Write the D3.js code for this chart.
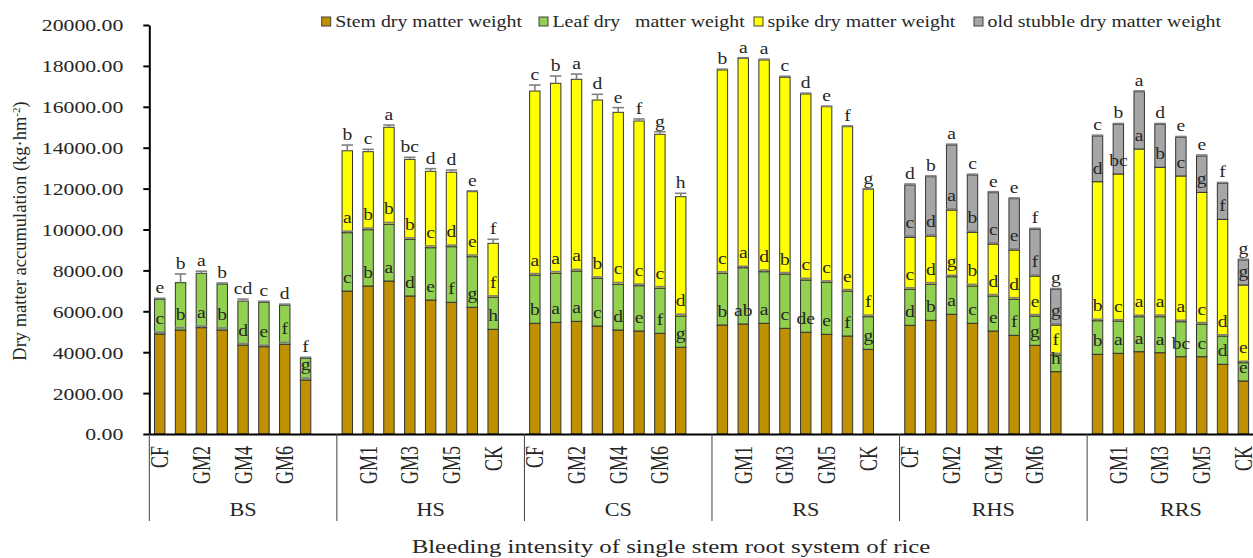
<!DOCTYPE html>
<html>
<head>
<meta charset="utf-8">
<script src="https://cdn.jsdelivr.net/npm/d3@7"></script>
<style>
  body { margin: 0; background: #fff; }
  svg { display: block; }
  text { font-family: "Liberation Serif", "Times New Roman", serif; fill: #262626; }
</style>
</head>
<body>
<svg id="chart" width="1253" height="558"></svg>
<script>
// ---- data (kg·hm-2) ----
const groups = ["BS", "HS", "CS", "RS", "RHS", "RRS"];
const treatments = ["CF", "GM1", "GM2", "GM3", "GM4", "GM5", "GM6", "CK"];
const seriesNames = ["Stem dry matter weight", "Leaf dry   matter weight", "spike dry matter weight", "old stubble dry matter weight"];
const seriesKeys = ["stem", "leaf", "spike", "stubble"];
const seriesColors = ["#BF9000", "#92D050", "#FFFF00", "#A6A6A6"];

const stem = [
  [4890, 5085, 5200, 5085, 4350, 4270, 4385, 2640],
  [6990, 7237, 7480, 6750, 6550, 6440, 6195, 5120],
  [5413, 5460, 5510, 5280, 5085, 5037, 4924, 4240],
  [5330, 5379, 5413, 5168, 4973, 4875, 4792, 4142],
  [5315, 5560, 5853, 5413, 5037, 4826, 4337, 3048],
  [3897, 3946, 4025, 3976, 3780, 3780, 3408, 2592]
];
const leaf = [
  [1697, 2315, 2660, 2250, 2150, 2170, 1915, 1060],
  [2855, 2753, 2774, 2770, 2560, 2720, 2475, 1565],
  [2362, 2398, 2460, 2333, 2235, 2215, 2201, 1530],
  [2528, 2753, 2524, 2656, 2557, 2543, 2201, 1594],
  [1761, 1760, 1839, 1824, 1711, 1759, 1433, 815],
  [1643, 1580, 1711, 1760, 1712, 1599, 1384, 895]
];
const spike = [
  [0, 0, 0, 0, 0, 0, 0, 0],
  [4005, 3815, 4746, 3910, 3735, 3640, 3180, 2640],
  [8995, 9292, 9375, 8717, 8410, 8053, 7530, 5834],
  [9942, 10238, 10353, 9619, 9096, 8587, 8034, 6230],
  [2542, 2362, 3261, 2626, 2543, 2412, 1956, 1467],
  [6797, 7188, 8200, 7304, 7124, 6438, 5706, 3799]
];
const stubble = [
  [0, 0, 0, 0, 0, 0, 0, 0],
  [0, 0, 0, 0, 0, 0, 0, 0],
  [0, 0, 0, 0, 0, 0, 0, 0],
  [0, 0, 0, 0, 0, 0, 0, 0],
  [2558, 2900, 3179, 2802, 2509, 2509, 2284, 1746],
  [2235, 2430, 2802, 2104, 1892, 1777, 1761, 1223]
];

// standard errors
const stemErr = [
  [90, 110, 80, 100, 70, 70, 90, 100],
  [0, 0, 0, 0, 0, 0, 0, 0],
  [0, 0, 0, 0, 0, 0, 0, 0],
  [0, 0, 0, 0, 0, 0, 0, 0],
  [0, 0, 0, 0, 0, 0, 0, 0],
  [0, 0, 0, 0, 0, 0, 0, 0]
];
const leafErr = [
  [50, 425, 100, 50, 100, 50, 50, 50],
  [70, 80, 90, 70, 90, 80, 80, 70],
  [70, 80, 80, 70, 90, 80, 80, 90],
  [70, 70, 80, 70, 80, 70, 70, 80],
  [70, 80, 70, 80, 70, 80, 70, 80],
  [70, 60, 70, 80, 70, 70, 60, 70]
];
const spikeErr = [
  [0, 0, 0, 0, 0, 0, 0, 0],
  [280, 115, 110, 100, 130, 110, 40, 195],
  [295, 356, 255, 280, 230, 100, 125, 166],
  [40, 30, 40, 50, 40, 30, 40, 30],
  [60, 50, 60, 50, 60, 60, 50, 60],
  [0, 0, 0, 0, 0, 0, 0, 0]
];
const stubbleErr = [
  [0, 0, 0, 0, 0, 0, 0, 0],
  [0, 0, 0, 0, 0, 0, 0, 0],
  [0, 0, 0, 0, 0, 0, 0, 0],
  [0, 0, 0, 0, 0, 0, 0, 0],
  [50, 40, 40, 40, 50, 40, 50, 40],
  [40, 40, 40, 40, 40, 50, 40, 40]
];

// significance letters (P<0.05)
const stemLetters = [
  ["c", "b", "a", "b", "d", "e", "f", "g"],
  ["c", "b", "a", "d", "e", "f", "g", "h"],
  ["b", "a", "a", "c", "d", "e", "f", "g"],
  ["b", "ab", "a", "c", "de", "e", "f", "g"],
  ["d", "b", "a", "c", "e", "f", "g", "h"],
  ["b", "a", "a", "a", "bc", "c", "d", "e"]
];
const leafLetters = [
  ["e", "b", "a", "b", "cd", "c", "d", "f"],
  ["a", "b", "b", "b", "c", "d", "e", "f"],
  ["a", "a", "a", "b", "c", "c", "c", "d"],
  ["c", "a", "d", "b", "c", "c", "e", "f"],
  ["c", "d", "g", "b", "d", "d", "e", "f"],
  ["b", "c", "a", "a", "a", "c", "d", "e"]
];
const spikeLetters = [
  ["", "", "", "", "", "", "", ""],
  ["b", "c", "a", "bc", "d", "d", "e", "f"],
  ["c", "b", "a", "d", "e", "f", "g", "h"],
  ["b", "a", "a", "c", "d", "e", "f", "g"],
  ["c", "d", "a", "b", "c", "e", "f", "g"],
  ["d", "bc", "a", "b", "c", "g", "f", "g"]
];
const stubbleLetters = [
  ["", "", "", "", "", "", "", ""],
  ["", "", "", "", "", "", "", ""],
  ["", "", "", "", "", "", "", ""],
  ["", "", "", "", "", "", "", ""],
  ["d", "b", "a", "c", "e", "e", "f", "g"],
  ["c", "b", "a", "d", "e", "e", "f", "g"]
];

const yTicks = [0, 2000, 4000, 6000, 8000, 10000, 12000, 14000, 16000, 18000, 20000];
const yTitle = "Dry matter accumulation (kg·hm";
const xTitle = "Bleeding intensity of single stem root system of rice";

// ---- build rows ----
const values = [stem, leaf, spike, stubble];
const errs = [stemErr, leafErr, spikeErr, stubbleErr];
const letters = [stemLetters, leafLetters, spikeLetters, stubbleLetters];

const rows = [];
const keys = [];
groups.forEach((g, gi) => {
  treatments.forEach((t, ti) => {
    const key = g + "|" + t;
    keys.push(key);
    const r = { key, group: g, treat: t };
    seriesKeys.forEach((s, si) => {
      r[s] = values[si][gi][ti];
      r[s + "Err"] = errs[si][gi][ti];
      r[s + "Let"] = letters[si][gi][ti];
    });
    rows.push(r);
  });
  keys.push(g + "|_");   // spacer slot between groups
});

// ---- layout ----
const plotLeft = 149.3, plotBase = 434, plotTop = 25;
const slot = 20.84;
const svg = d3.select("#chart");

const x = d3.scaleBand()
  .domain(keys)
  .range([plotLeft, plotLeft + keys.length * slot])
  .paddingInner(0.5)
  .paddingOuter(0.25);
const y = d3.scaleLinear().domain([0, 20000]).range([plotBase, plotTop]);

const stacked = d3.stack().keys(seriesKeys)(rows);

// ---- y axis ----
const yAxis = svg.append("g")
  .attr("transform", `translate(${plotLeft},0)`)
  .call(d3.axisLeft(y).tickValues(yTicks).tickFormat(d3.format(".2f")).tickSize(6).tickSizeOuter(0));
yAxis.select(".domain").attr("stroke", "#000").attr("stroke-width", 2);
yAxis.selectAll(".tick line").attr("stroke", "#000").attr("stroke-width", 2);
yAxis.selectAll(".tick text")
  .attr("x", 0).attr("dy", "0.37em")
  .attr("transform", "translate(-26,0) scale(1.36,1)")
  .style("font-size", "16px").attr("fill", "#262626");

// ---- bars ----
const barG = svg.append("g");
stacked.forEach((layer, si) => {
  barG.append("g").selectAll("rect")
    .data(layer.filter(d => d.data[seriesKeys[si]] > 0))
    .join("rect")
    .attr("x", d => x(d.data.key))
    .attr("width", x.bandwidth())
    .attr("y", d => y(d[1]))
    .attr("height", d => y(d[0]) - y(d[1]))
    .attr("fill", seriesColors[si])
    .attr("stroke", "#333")
    .attr("stroke-width", 1);
});

// ---- error bars ----
const errG = svg.append("g").attr("stroke", "#7f7f7f").attr("stroke-width", 1.6);
stacked.forEach((layer, si) => {
  const s = seriesKeys[si];
  layer.filter(d => d.data[s] > 0 && d.data[s + "Err"] > 0).forEach(d => {
    const cx = x(d.data.key) + x.bandwidth() / 2;
    const hw = x.bandwidth() / 2 + 0.5;
    const y1 = y(d[1]), y2 = y(d[1] + d.data[s + "Err"]);
    errG.append("line").attr("x1", cx).attr("x2", cx).attr("y1", y1).attr("y2", y2);
    errG.append("line").attr("x1", cx - hw).attr("x2", cx + hw).attr("y1", y2).attr("y2", y2);
  });
});

// ---- significance letters ----
const labG = svg.append("g");
stacked.forEach((layer, si) => {
  const s = seriesKeys[si];
  layer.filter(d => d.data[s] > 0 && d.data[s + "Let"]).forEach(d => {
    const isTop = seriesKeys.slice(si + 1).every(k => !(d.data[k] > 0));
    const cx = x(d.data.key) + x.bandwidth() / 2;
    const yy = y(d[1] + d.data[s + "Err"]) - (isTop ? 5 : 8);
    labG.append("text")
      .attr("transform", `translate(${cx},${yy}) scale(1.15,1)`)
      .attr("text-anchor", "middle")
      .style("font-size", "17px")
      .text(d.data[s + "Let"]);
  });
});

// ---- x axis ----
const labelled = keys.filter((k, i) => i % 2 === 0 && !k.endsWith("|_"));
const xAxis = svg.append("g")
  .attr("transform", `translate(0,${plotBase})`)
  .call(d3.axisBottom(x).tickValues(labelled).tickFormat(k => k.split("|")[1]).tickSize(0).tickSizeOuter(0));
xAxis.select(".domain").attr("stroke", "#000").attr("stroke-width", 2);
xAxis.selectAll(".tick text")
  .attr("y", null).attr("dy", "0.35em")
  .attr("text-anchor", "end")
  .attr("transform", "translate(0,12) scale(1.34,1) rotate(-90)")
  .style("font-size", "18px").attr("fill", "#262626");

// group separators and group names
groups.forEach((g, gi) => {
  const g0 = x.range()[0] + gi * 9 * x.step();
  const g1 = g0 + 9 * x.step();
  svg.append("line")
    .attr("x1", g0).attr("x2", g0).attr("y1", plotBase).attr("y2", 521)
    .attr("stroke", "#404040").attr("stroke-width", 1);
  svg.append("text")
    .attr("transform", `translate(${(g0 + g1) / 2},516) scale(1.2,1)`)
    .attr("text-anchor", "middle")
    .style("font-size", "18.5px")
    .text(g);
});

// ---- axis titles ----
const yt = svg.append("text")
  .attr("transform", "translate(26,231) rotate(-90)")
  .attr("text-anchor", "middle")
  .style("font-size", "18.5px");
yt.append("tspan").text(yTitle);
yt.append("tspan").attr("baseline-shift", "super").style("font-size", "11px").text("-2");
yt.append("tspan").text(")");

svg.append("text")
  .attr("transform", "translate(671,553) scale(1.38,1)")
  .attr("text-anchor", "middle")
  .style("font-size", "18px")
  .text(xTitle);

// ---- legend ----
const legendX = [321.7, 539, 754, 974];
seriesNames.forEach((name, i) => {
  const lg = svg.append("g").attr("transform", `translate(${legendX[i]},17)`);
  lg.append("rect").attr("width", 9).attr("height", 9)
    .attr("fill", seriesColors[i]).attr("stroke", "#404040").attr("stroke-width", 1);
  lg.append("text")
    .attr("transform", "translate(13.5,9.5) scale(1.24,1)")
    .style("font-size", "16px")
    .style("white-space", "pre")
    .attr("xml:space", "preserve")
    .text(name);
});
</script>
</body>
</html>
